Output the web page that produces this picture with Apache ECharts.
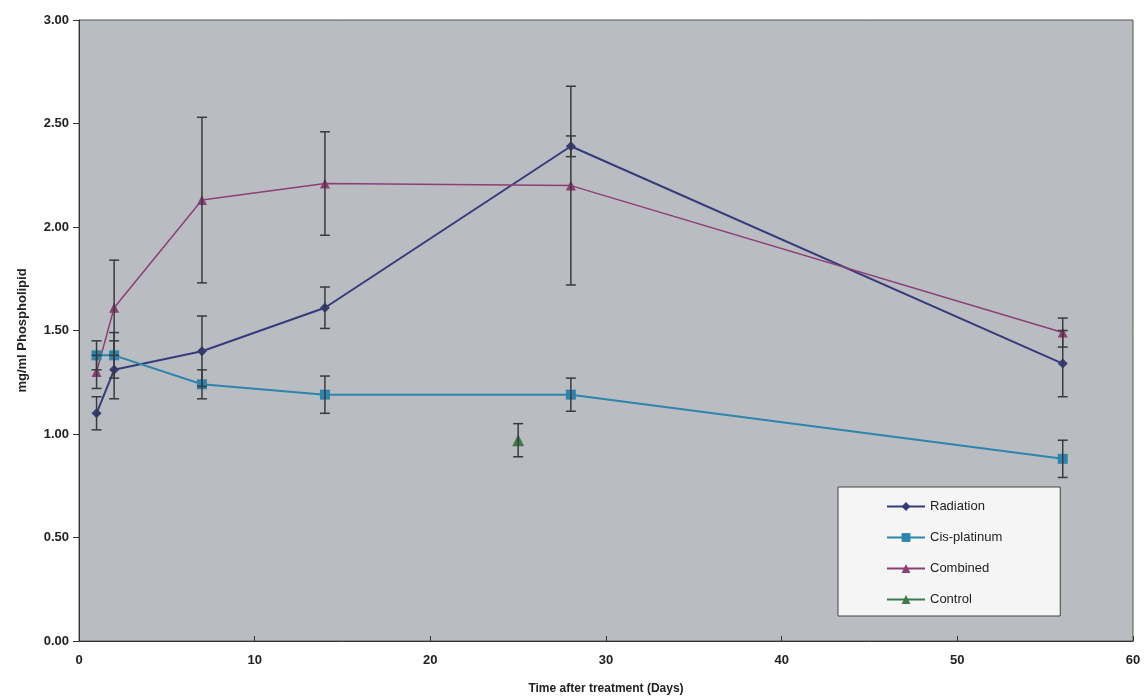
<!DOCTYPE html>
<html>
<head>
<meta charset="utf-8">
<script src="https://cdn.jsdelivr.net/npm/echarts@6/dist/echarts.min.js"></script>
<style>
html,body{margin:0;padding:0;background:#fff;}
#chart{width:1144px;height:700px;}
</style>
</head>
<body>
<div id="chart"></div>
<script>
// ---- data ----
const days = [1, 2, 7, 14, 28, 56];
const radiationVals = [1.10, 1.31, 1.40, 1.61, 2.39, 1.34];
const radiationErr  = [0.08, 0.14, 0.17, 0.10, 0.05, 0.16];
const cisVals = [1.38, 1.38, 1.24, 1.19, 1.19, 0.88];
const cisErr  = [0.07, 0.11, 0.07, 0.09, 0.08, 0.09];
const combinedVals = [1.30, 1.61, 2.13, 2.21, 2.20, 1.49];
const combinedErr  = [0.08, 0.23, 0.40, 0.25, 0.48, 0.07];
const controlDays = [25];
const controlVals = [0.97];
const controlErr  = [0.08];
const seriesNames = ['Radiation', 'Cis-platinum', 'Combined', 'Control'];
const xTicks = [0, 10, 20, 30, 40, 50, 60];

function pts(xs, ys){ return xs.map((x,i)=>[x, ys[i]]); }
function errs(xs, ys, es){ return xs.map((x,i)=>[x, ys[i]-es[i], ys[i]+es[i]]); }

const allErr = [].concat(
  errs(days, radiationVals, radiationErr),
  errs(days, cisVals, cisErr),
  errs(days, combinedVals, combinedErr),
  errs(controlDays, controlVals, controlErr)
);

const font = 'Liberation Sans, Arial, sans-serif';
const chart = echarts.init(document.getElementById('chart'), null, {renderer:'canvas'});
const colors = ['#363b7c', '#2d84ad', '#8c3f74', '#3d7a4c'];

chart.setOption({
  animation: false,
  textStyle: {fontFamily: font},
  grid: {left: 79, right: 11, top: 20, bottom: 55, show: true,
         backgroundColor: '#b9bdc1', borderColor: '#555', borderWidth: 1},
  legend: {
    data: seriesNames,
    orient: 'vertical', left: 838, top: 487,
    backgroundColor: '#f5f5f5', borderColor: '#444', borderWidth: 1, borderRadius: 0,
    padding: [13, 58, 10, 48],
    itemWidth: 38, itemHeight: 11, itemGap: 18,
    textStyle: {fontFamily: font, fontSize: 13, color: '#222'}
  },
  xAxis: {
    type: 'value', min: xTicks[0], max: xTicks[xTicks.length-1], interval: 10,
    name: 'Time after treatment (Days)', nameLocation: 'middle', nameGap: 42,
    nameTextStyle: {fontFamily: font, fontSize: 12, fontWeight: 'bold', color: '#222'},
    axisLine: {lineStyle: {color: '#333', width: 1}},
    axisTick: {inside: true, length: 5, lineStyle: {color: '#333'}},
    axisLabel: {fontFamily: font, fontSize: 13, fontWeight: 'bold', color: '#222', margin: 13},
    splitLine: {show: false}
  },
  yAxis: {
    type: 'value', min: 0, max: 3, interval: 0.5,
    name: 'mg/ml Phospholipid', nameLocation: 'middle', nameGap: 50,
    nameTextStyle: {fontFamily: font, fontSize: 13, fontWeight: 'bold', color: '#222'},
    axisLine: {show: true, lineStyle: {color: '#333', width: 1}},
    axisTick: {show: true, length: 6, lineStyle: {color: '#333'}},
    axisLabel: {fontFamily: font, fontSize: 13, fontWeight: 'bold', color: '#222',
                formatter: v => v.toFixed(2), margin: 10},
    splitLine: {show: false}
  },
  series: [
    {name: 'Radiation', type: 'line', data: pts(days, radiationVals), color: colors[0],
     symbol: 'diamond', symbolSize: 10, lineStyle: {width: 2}, z: 3},
    {name: 'Cis-platinum', type: 'line', data: pts(days, cisVals), color: colors[1],
     symbol: 'rect', symbolSize: 10, lineStyle: {width: 2}, z: 3},
    {name: 'Combined', type: 'line', data: pts(days, combinedVals), color: colors[2],
     symbol: 'triangle', symbolSize: 10, lineStyle: {width: 1.5}, z: 3},
    {name: 'Control', type: 'line', data: pts(controlDays, controlVals), color: colors[3],
     symbol: 'triangle', symbolSize: 12, lineStyle: {width: 2}, z: 3},
    {type: 'custom', data: allErr, z: 4, silent: true,
     renderItem: function(params, api){
       const x = api.value(0);
       const lo = api.coord([x, api.value(1)]);
       const hi = api.coord([x, api.value(2)]);
       const w = 5;
       const st = {stroke: '#3a3a3a', lineWidth: 1.5};
       return {type: 'group', children: [
         {type: 'line', shape: {x1: lo[0], y1: lo[1], x2: hi[0], y2: hi[1]}, style: st},
         {type: 'line', shape: {x1: lo[0]-w, y1: lo[1], x2: lo[0]+w, y2: lo[1]}, style: st},
         {type: 'line', shape: {x1: hi[0]-w, y1: hi[1], x2: hi[0]+w, y2: hi[1]}, style: st}
       ]};
     }}
  ]
});
</script>
</body>
</html>
